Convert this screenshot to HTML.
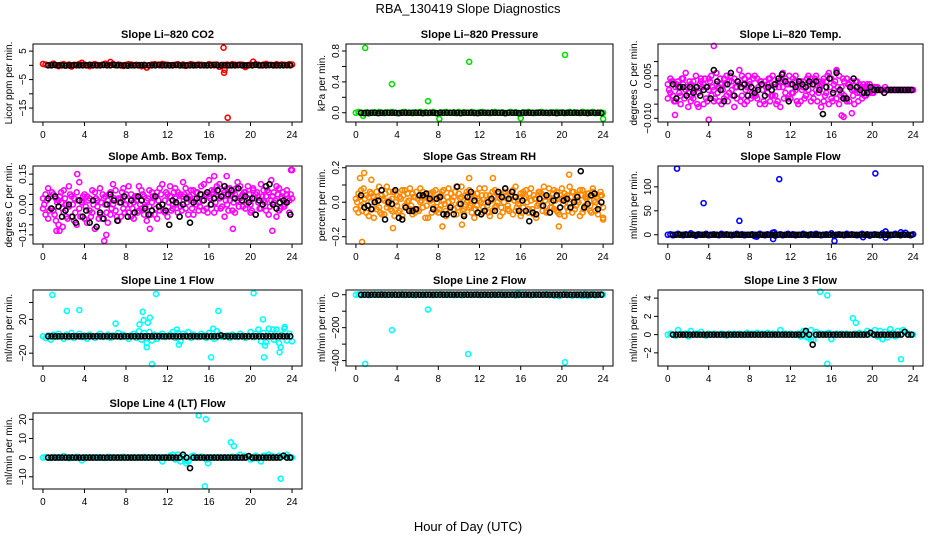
<!DOCTYPE html>
<html><head><meta charset="utf-8">
<style>
html,body{margin:0;padding:0;background:#fff;}
svg{display:block;font-family:"Liberation Sans",sans-serif;}
</style></head>
<body>
<svg id="chart" width="936" height="540" viewBox="0 0 936 540" xmlns="http://www.w3.org/2000/svg">
<rect x="0" y="0" width="936" height="540" fill="#fff"/>
<text x="468" y="13" text-anchor="middle" font-size="13">RBA_130419  Slope Diagnostics</text>
<text x="468" y="531" text-anchor="middle" font-size="13">Hour of Day (UTC)</text>
</svg>
<script>
const hoursC=[0,0.25,0.5,0.75,1,1.25,1.5,1.75,2,2.25,2.5,2.75,3,3.25,3.5,3.75,4,4.25,4.5,4.75,5,5.25,5.5,5.75,6,6.25,6.5,6.75,7,7.25,7.5,7.75,8,8.25,8.5,8.75,9,9.25,9.5,9.75,10,10.25,10.5,10.75,11,11.25,11.5,11.75,12,12.25,12.5,12.75,13,13.25,13.5,13.75,14,14.25,14.5,14.75,15,15.25,15.5,15.75,16,16.25,16.5,16.75,17,17.25,17.5,17.75,18,18.25,18.5,18.75,19,19.25,19.5,19.75,20,20.25,20.5,20.75,21,21.25,21.5,21.75,22,22.25,22.5,22.75,23,23.25,23.5,23.75,24];
const hoursC2=[0.12,0.37,0.62,0.87,1.12,1.37,1.62,1.87,2.12,2.37,2.62,2.87,3.12,3.37,3.62,3.87,4.12,4.37,4.62,4.87,5.12,5.37,5.62,5.87,6.12,6.37,6.62,6.87,7.12,7.37,7.62,7.87,8.12,8.37,8.62,8.87,9.12,9.37,9.62,9.87,10.12,10.37,10.62,10.87,11.12,11.37,11.62,11.87,12.12,12.37,12.62,12.87,13.12,13.37,13.62,13.87,14.12,14.37,14.62,14.87,15.12,15.37,15.62,15.87,16.12,16.37,16.62,16.87,17.12,17.37,17.62,17.87,18.12,18.37,18.62,18.87,19.12,19.37,19.62,19.87,20.12,20.37,20.62,20.87,21.12,21.37,21.62,21.87,22.12,22.37,22.62,22.87,23.12,23.37,23.62,23.87];
const hoursK=[0.5,0.83,1.17,1.5,1.83,2.17,2.5,2.83,3.17,3.5,3.83,4.17,4.5,4.83,5.17,5.5,5.83,6.17,6.5,6.83,7.17,7.5,7.83,8.17,8.5,8.83,9.17,9.5,9.83,10.17,10.5,10.83,11.17,11.5,11.83,12.17,12.5,12.83,13.17,13.5,13.83,14.17,14.5,14.83,15.17,15.5,15.83,16.17,16.5,16.83,17.17,17.5,17.83,18.17,18.5,18.83,19.17,19.5,19.83,20.17,20.5,20.83,21.17,21.5,21.83,22.17,22.5,22.83,23.17,23.5,23.83];
const xTicks=[0,4,8,12,16,20,24];

// CO2
const co2Main=[0.5,0.3,0,0.2,0.6,0,-0.3,0.2,0.4,0,0.3,-0.4,0.2,0,0.5,0.9,0.3,0,-0.3,0.2,0.4,0.1,0,0.3,0.6,0.2,1.2,0.5,0,0.3,0.1,-0.2,0.2,0.4,0.3,0,0.2,0.1,-0.3,0.2,-0.8,0,0.3,0.4,0.2,0,0.5,0.3,0.2,0,0.1,0.2,0.4,0,0.3,-0.2,0.1,0.4,0.2,0,0.3,0.2,0.1,0,0.4,0.2,0,0.3,-0.5,0.2,0.1,0.3,0,0.4,0.2,0.1,0.3,0.2,-0.6,0.1,0.3,1.3,0.4,0.2,0,0.3,0.5,0.1,0.2,0,0.4,0.1,0.3,0.2,0,0.4,0.3];
const co2Black=[0,0,0.2,0,0,-0.1,0,0,0.1,0,0,0,0.2,0,0,0,0.1,0,0,0.2,0,0,0,-0.1,0,0,0,0.1,0,0,0,0,0.2,0,0,0,0,0.1,0,0,0,0,0,0.1,0,0,0,0,0.2,0,0,0,0,0,0,0.1,0,0,0,0,0.2,0,0,0,0.1,0,0,0,0,0.1,0];
const co2OutH=[17.4,17.45,17.5,17.8];
const co2OutV=[6.2,-2.6,-1.6,-18.4];

// Pressure
const presMain=[0,0.01,-0.005,0,0.005,-0.01,0,0.005,0,0.01,0,-0.005,0.005,0,0.01,0,-0.005,0,0.005,0.01,0,0,-0.005,0.005,0,0.01,0,0.005,-0.005,0,0.01,0,-0.01,0.005,0,0.01,0,0,0.005,-0.005,0.01,0,0.005,0,0,0.01,-0.005,0,0.005,0.01,0,0,-0.005,0.005,0.01,0,0,0.005,-0.005,0,0.01,0,0.005,0,-0.01,0.005,0,0.01,0,-0.005,0,0.005,0.01,0,0,-0.005,0.005,0,0.01,0,0.005,-0.005,0,0.01,0,0.005,0,-0.005,0.01,0,0.005,0,0.01,-0.005,0,0.005,0];
const presBlack=[0,-0.005,0,0,0,-0.005,0,0,0,0,0,-0.005,0,0,0,0,0,0,-0.005,0,0,0,-0.005,0,0,0,0,0,0,-0.005,0,0,0,0,-0.005,0,0,0,0,0,0,0,-0.005,0,0,0,-0.005,0,0,0,0,0,0,0,0,0,0,-0.005,0,0,0,0,0,0,0,0,-0.005,0,0,0,-0.005];
const presOutH=[0.9,3.5,7,11,20.3,0.7,8.1,16,24];
const presOutV=[0.84,0.37,0.15,0.66,0.75,-0.04,-0.08,-0.07,-0.08];

// Li-820 Temp
const tempA=[0.002,-0.001,0.003,-0.004,0.001,-0.002,0.004,0.000,-0.006,0.002,-0.003,0.005,-0.001,0.003,-0.005,0.001,0.004,-0.002,0.000,0.006,-0.004,0.002,-0.003,0.005,-0.001,0.003,-0.006,0.001,0.007,-0.002,0.004,-0.004,0.002,-0.001,0.005,-0.003,0.003,0.000,-0.005,0.002,0.004,-0.002,0.001,-0.004,0.003,0.006,-0.001,0.002,-0.003,0.004,0.000,-0.005,0.003,0.001,-0.002,0.005,-0.004,0.002,0.000,0.003,-0.006,0.004,-0.001,0.006,-0.003,0.002,0.007,-0.005,0.001,-0.002,0.004,-0.004,0.003,0.000,-0.001,0.002,-0.003,0.001,0.002,-0.001,0.001,0.000,0.001,0.000,0.000,0.001,0.000,0.000,0.000,0.000,0.000,0.000,0.000,0.000,0.000,0.000,0.000];
const tempB=[-0.003,0.004,-0.002,0.001,0.003,-0.005,0.002,0.006,-0.001,-0.004,0.003,0.001,-0.006,0.004,0.002,-0.003,0.000,0.005,-0.004,0.002,0.001,-0.005,0.004,-0.002,0.003,0.000,0.004,-0.003,0.002,0.005,-0.005,0.001,0.003,-0.002,0.000,0.004,-0.005,0.002,0.003,-0.001,-0.004,0.005,-0.002,0.003,-0.006,0.001,0.004,-0.003,0.002,-0.001,0.005,0.001,-0.004,0.003,-0.002,0.000,0.004,-0.003,0.005,-0.001,0.002,-0.004,0.003,-0.005,0.004,0.000,-0.003,0.005,-0.001,0.003,-0.004,0.002,0.000,-0.005,0.003,-0.001,0.001,-0.002,0.000,0.002,-0.001,0.001,0.000,0.000,0.000,0.000,0.000,0.000,0.000,0.000,0.000,0.000,0.000,0.000,0.000,0.000];
const tempC=[0.000,0.003,-0.004,0.002,-0.001,0.004,-0.003,0.001,0.003,-0.002,0.000,-0.005,0.002,0.001,0.004,-0.004,0.003,0.001,-0.003,-0.001,0.004,0.000,0.002,-0.004,0.005,-0.002,0.001,0.003,-0.004,0.002,0.000,0.005,-0.003,0.004,-0.002,0.001,0.003,-0.004,0.001,0.004,-0.002,0.002,-0.005,0.001,0.004,-0.003,0.002,0.005,-0.001,0.003,-0.004,0.002,0.000,-0.003,0.004,0.002,-0.001,0.004,-0.004,0.001,0.003,-0.002,0.005,0.001,-0.004,0.003,0.001,-0.002,0.004,-0.003,0.002,0.001,-0.002,0.003,-0.004,0.001,0.002,-0.002,0.001,0.000,-0.001,0.001,0.000,0.000,0.000,0.000,0.000,0.000,0.000,0.000,0.000,0.000,0.000,0.000,0.000,0.000];
const tempBlack=[0.002,-0.003,0.001,0.001,-0.002,0.001,-0.001,0.001,-0.002,0.000,0.001,-0.003,0.007,0.003,0.000,-0.004,0.002,0.006,-0.002,0.003,0.001,0.002,-0.002,0.001,-0.001,0.000,0.002,-0.002,0.001,0.000,0.002,0.004,0.0055,0.003,-0.004,0.002,0.001,0.003,0.002,0.001,0.003,0.002,0.003,0.000,-0.0085,0.001,0.004,-0.001,0.006,0.000,-0.003,-0.003,0.001,0.004,0.001,0.000,-0.001,-0.001,0.001,0.000,0.000,0.000,-0.001,0.000,0.000,0.000,0.000,0.000,0.000,0.000,0.000];
const tempOutH=[4.5,4,0.7,17,16.5,17.2,18];
const tempOutV=[0.0155,-0.0105,-0.0088,-0.009,0.0065,-0.0095,-0.0082];

// Amb Box Temp
const ambA=[0.03,-0.05,0.08,-0.02,0.05,-0.08,0.02,0.06,-0.04,0.00,0.09,-0.06,0.03,-0.10,0.11,0.01,-0.07,0.04,-0.03,0.07,-0.12,0.02,-0.05,0.05,0.00,-0.09,0.06,0.10,-0.03,0.03,-0.06,0.08,0.00,-0.04,0.05,-0.07,0.02,0.09,-0.02,0.04,-0.08,0.07,0.01,-0.05,0.06,-0.03,0.10,0.02,-0.06,0.04,0.00,0.08,-0.04,0.05,0.11,-0.02,0.03,0.07,-0.05,0.06,0.01,0.09,-0.03,0.05,0.12,0.00,0.07,-0.02,0.10,0.04,-0.06,0.08,0.02,0.06,-0.04,0.11,0.03,0.05,-0.02,0.09,0.00,0.07,-0.05,0.04,0.10,0.02,-0.03,0.06,0.12,0.01,-0.06,0.08,0.03,-0.01,0.05,0.02,0.17];
const ambB=[-0.02,0.05,-0.07,0.04,-0.03,0.03,-0.10,0.01,0.07,-0.06,-0.01,0.04,-0.08,0.06,-0.02,0.02,0.05,-0.09,0.03,-0.04,0.06,-0.01,0.08,-0.07,0.04,0.02,-0.05,0.00,0.07,-0.08,0.03,-0.02,0.05,0.09,-0.06,0.01,0.04,-0.03,0.07,-0.05,0.02,-0.01,0.06,0.03,-0.07,0.08,0.00,-0.04,0.05,0.09,-0.02,0.03,0.06,-0.01,0.04,0.08,-0.05,0.02,0.07,0.00,-0.03,0.05,0.10,-0.02,0.04,0.07,-0.04,0.09,0.03,-0.01,0.06,0.00,0.08,-0.03,0.05,0.02,0.09,-0.01,0.06,0.03,-0.04,0.08,0.05,0.01,-0.02,0.07,0.04,-0.05,0.02,0.06,0.09,-0.03,0.04,0.00,0.07,-0.04,0.03];
const ambC=[0.00,0.02,-0.03,0.06,-0.05,0.01,0.04,-0.02,0.03,-0.07,0.05,0.00,-0.04,0.02,-0.06,0.04,-0.01,0.02,-0.06,0.00,0.03,-0.07,0.01,0.03,-0.04,0.05,-0.02,0.03,-0.06,0.01,0.06,-0.04,0.02,0.00,-0.02,0.04,-0.04,0.00,0.05,-0.01,0.03,-0.05,0.04,-0.02,0.02,0.05,-0.03,0.06,0.01,-0.03,0.06,0.00,0.02,-0.03,0.05,0.01,0.04,-0.02,0.03,0.06,-0.01,0.02,0.05,-0.04,0.03,0.06,0.01,0.04,-0.02,0.07,0.02,-0.03,0.05,0.01,0.08,-0.01,0.04,0.06,0.00,0.05,-0.03,0.03,0.06,-0.02,0.04,0.01,0.07,-0.01,0.04,0.02,0.05,-0.02,0.06,0.01,0.03,0.05,0.00];
const ambBlack=[0.03,-0.02,0.04,-0.01,-0.06,-0.03,0.00,-0.06,-0.09,0.02,-0.06,-0.03,-0.09,0.02,-0.11,-0.04,-0.07,0.00,0.05,0.02,-0.08,0.01,0.04,-0.06,0.02,-0.04,0.04,0.02,-0.02,-0.05,-0.03,0.04,-0.01,0.00,-0.03,-0.10,0.02,0.01,-0.06,0.00,0.03,-0.09,0.01,0.03,0.05,0.02,0.06,0.00,0.03,0.07,0.04,0.09,0.05,0.07,0.03,0.08,0.02,0.04,0.01,0.03,-0.05,0.02,0.00,0.09,0.10,0.00,-0.02,0.01,0.02,0.01,-0.05];
const ambOutH=[3.3,1.3,1.6,1.9,5.9,6.1,10.3,16.5,17.7,18.3,22.1,23.9];
const ambOutV=[0.15,-0.13,-0.13,-0.11,-0.18,-0.15,-0.12,0.14,0.14,-0.12,-0.13,0.17];

// Gas Stream RH
const rhA=[-0.04,0.05,-0.02,0.08,-0.06,0.03,0.00,-0.09,0.06,-0.03,0.04,-0.07,0.09,0.01,-0.05,0.06,-0.02,0.03,-0.08,0.07,0.00,-0.04,0.05,-0.06,0.02,0.08,-0.03,0.04,-0.09,0.01,0.06,-0.05,0.03,-0.02,0.07,-0.08,0.00,0.05,-0.04,0.09,-0.01,0.03,-0.07,0.06,-0.03,0.02,-0.09,0.05,0.01,-0.06,0.08,-0.02,0.04,-0.05,0.07,0.00,-0.08,0.03,0.06,-0.04,0.02,-0.07,0.09,-0.01,0.05,-0.03,0.07,-0.06,0.01,0.04,-0.09,0.06,-0.02,0.03,-0.05,0.08,0.00,-0.04,0.06,-0.07,0.02,0.05,-0.03,0.09,-0.06,0.01,0.04,-0.08,0.07,-0.02,0.03,-0.05,0.06,0.00,-0.07,0.04,-0.03];
const rhB=[0.02,-0.06,0.07,-0.01,0.04,-0.08,0.05,0.03,-0.04,0.09,-0.07,0.01,-0.03,0.06,0.02,-0.08,0.04,-0.05,0.07,-0.02,0.05,0.08,-0.07,0.03,-0.04,0.00,0.06,-0.09,0.02,0.05,-0.03,0.07,-0.06,0.04,0.01,-0.05,0.08,-0.02,0.03,-0.07,0.05,0.09,-0.04,0.00,0.07,-0.06,0.03,-0.02,0.08,0.04,-0.05,0.01,-0.08,0.06,-0.03,0.05,0.02,-0.06,0.08,-0.02,0.04,0.07,-0.05,0.01,-0.08,0.06,0.03,-0.04,0.08,-0.07,0.02,-0.01,0.05,0.09,-0.06,0.03,-0.03,0.07,-0.05,0.02,0.08,-0.08,0.04,-0.01,0.06,-0.04,0.01,0.07,-0.06,0.03,0.05,-0.02,0.08,-0.05,0.02,0.06,-0.09];
const rhC=[0.00,0.03,-0.05,0.02,-0.02,0.06,-0.04,0.01,0.03,-0.06,0.02,0.05,-0.01,-0.04,0.06,0.00,-0.06,0.02,0.04,-0.03,0.01,-0.02,0.03,0.06,-0.05,0.01,0.03,-0.02,0.05,-0.06,0.02,0.00,-0.04,0.06,-0.01,0.03,-0.05,0.01,0.06,-0.03,0.02,-0.05,0.04,0.01,-0.02,0.05,-0.04,0.02,0.00,-0.03,0.04,-0.06,0.01,0.03,-0.02,0.05,-0.03,0.00,0.04,-0.05,0.06,0.01,-0.03,0.03,-0.06,0.02,0.00,0.05,-0.04,0.02,-0.02,0.06,-0.05,0.01,0.03,-0.03,0.05,0.01,-0.06,0.04,-0.01,0.02,-0.05,0.03,0.06,-0.02,0.00,0.04,-0.04,0.02,0.05,-0.06,0.01,0.03,-0.02,0.04,0.00];
const rhBlack=[0.04,-0.03,-0.02,-0.04,0.00,0.01,0.07,-0.10,0.00,-0.01,0.07,-0.09,-0.10,-0.03,-0.05,-0.05,-0.04,0.04,0.04,0.05,0.02,-0.04,0.02,0.03,-0.07,-0.07,-0.03,-0.07,0.09,-0.01,-0.08,0.03,0.06,0.01,-0.06,-0.07,-0.05,0.00,0.02,-0.05,0.06,0.03,0.08,0.02,0.06,0.03,-0.05,0.01,-0.05,-0.11,-0.06,-0.07,0.02,-0.02,0.04,-0.06,0.01,0.04,-0.03,0.01,0.02,-0.03,0.00,0.03,0.18,-0.03,-0.01,0.04,0.05,-0.04,0.00];
const rhOutH=[0.6,0.8,0.4,1.5,3.6,8.4,10.3,19.7,20.7,11,13.3,24];
const rhOutV=[-0.23,0.17,0.14,0.13,-0.15,-0.14,-0.13,-0.14,0.16,0.14,0.14,-0.1];

// Sample Flow
const sampMain=[0,1,-1,0,2,0,-1,1,0,3,0,-2,1,0,0,2,-1,0,1,0,-1,2,0,1,0,-1,0,2,0,1,-1,0,0,1,-3,0,2,0,-1,1,0,4,-2,0,1,-1,0,2,0,1,-1,0,0,2,0,-1,1,0,2,0,-1,0,1,0,3,-2,0,1,0,-1,2,0,1,0,-1,0,2,0,1,-2,0,1,0,-1,3,0,1,-1,0,2,0,-1,1,4,0,-1,1];
const sampBlack=[0,0,0,0,0,0,0,0,0,0,0,0,0,0,0,0,0,0,0,0,0,0,0,0,0,0,0,0,0,0,0,0,0,0,0,0,0,0,0,0,0,0,0,0,0,0,0,0,0,0,0,0,0,0,0,0,0,0,0,0,0,0,0,0,0,0,0,0,0,0,0];
const sampOutH=[0.9,3.5,7,10.9,20.3,10.3,16.3,19.1,21.3,21.3,8.7,10.4,22.8];
const sampOutV=[138,66,29,116,128,-9,-13,-5,-6,7,-4,5,5];

// Line 1 Flow
const l1Main=[0,-2,1,-4,2,-1,3,0,-3,2,-1,4,-2,0,3,-1,1,-3,2,0,-2,1,3,-1,0,2,-2,1,0,4,-1,2,0,-3,1,3,-2,6,-4,4,-8,5,-5,2,-3,1,3,-1,0,2,5,-2,4,-6,3,1,5,-2,2,0,-1,3,1,-2,4,0,-3,6,2,-1,0,1,-2,2,0,-1,3,1,-2,0,5,-1,3,8,-6,4,-7,9,3,-4,8,-8,2,9,-5,3,-6];
const l1Black=[0,0,0,0,0,0,0,0,0,0,0,0,0,0,0,0,0,0,0,0,0,0,0,0,0,0,0,0,0,0,0,0,0,0,0,0,0,0,0,0,0,0,0,0,0,0,0,0,0,0,1,0,0,0,0,0,0,0,0,0,0,0,0,0,0,0,0,0,0,0,0];
const l1OutH=[0.9,2.3,3.5,7,9.3,9.6,9.7,10.1,10.3,10.5,10.9,13.1,16.2,16.9,20.3,21.2,21.3,21.4,22.8,22.9,23.3,10,12.9,16.4,22.2];
const l1OutV=[49,30,31,15,14,29,19,16,22,-33,50,-10,-25,30,51,20,-25,-11,-19,-13,11,-13,8,9,8];

// Line 2 Flow
const l2Main=[0,2,-2,0,1,-3,0,2,0,-1,3,0,-2,1,0,2,-1,0,3,-2,0,1,0,-3,2,0,-1,0,2,0,-2,1,0,3,0,-1,2,0,-2,0,1,-3,0,2,0,-1,0,3,-2,0,1,0,-2,2,0,-1,3,0,-2,1,0,2,-4,8,0,-1,2,0,-3,1,0,2,-1,0,3,-2,0,-6,2,-8,0,4,-3,1,-6,0,-4,2,-7,5,-8,0,3,-4,0,2,0];
const l2Black=[0,0,0,0,0,0,0,0,0,0,0,0,0,0,0,0,0,0,0,0,0,0,0,0,0,0,0,0,0,0,0,0,0,0,0,0,0,0,0,0,0,0,0,0,0,0,0,0,0,0,0,0,0,0,0,0,0,0,0,0,0,0,0,0,0,0,0,0,0,0,0];
const l2OutH=[0.9,3.5,7,10.9,20.3];
const l2OutV=[-420,-215,-90,-360,-410];

// Line 3 Flow
const l3Main=[0,0.1,0,-0.1,0.5,0.1,0,0.1,-0.2,0.4,0,0.1,0,0.3,0,-0.1,0.1,0,0.1,0,0,0.1,0,-0.1,0.1,0,0.1,0,0.1,0,0,0.2,0,0.1,0,0.2,0,0.1,0,0.2,0,0.1,0,0.1,0.5,0,0.1,0,0.1,0,0,0.1,-0.2,0.4,0.2,-0.3,0.5,-0.6,0.3,0,0.1,0,0.1,0.2,-0.5,0,0.1,0,0.1,0,0.1,0,0,0.1,0,0.2,0,0.1,0.4,0,0.1,0.5,-0.2,0.4,-0.5,0.3,-0.3,0.6,0.2,-0.2,0.4,0.1,0.5,0.3,0.1,0,0];
const l3Black=[0,0,0,0,0,0,0,0,0,0,0,0,0,0,0,0,0,0,0,0,0,0,0,0,0,0,0,0,0,0,0,0,0,0,0,0,0,0,0,0.4,0,-1.1,0,0,0,0,0,0,0,0,0,0,0,0,0,0,0,0,0.2,0,0,0,0,0,0,0,0,0,0.3,0,0];
const l3OutH=[14.9,15.6,15.6,18.1,18.4,16,21,22.8,13.6,14];
const l3OutV=[4.7,4.3,-3.2,1.8,1.3,-0.5,-0.5,-2.7,-0.3,-0.6];

// Line 4 Flow
const l4Main=[0,0.3,0,-0.2,0.3,0,0.2,0,0.8,0,-0.3,0.2,0,0.4,0,-1.5,0.2,0,0.3,0,0.2,0,0.3,0,-0.2,0.4,0,0.3,0,0.2,0,0.4,0,0.2,0,0.3,0,0.2,0,0.4,0,0.2,0,0.3,0,0.2,-2,0.3,0,1,1.5,-1,1.5,-2,0.5,-1.5,-2,0.5,1,0,0.3,0.5,0.2,-1,0.3,0,0.2,0,0.3,0,0.2,0,0.3,0.5,0,0.4,1.5,0,0.8,0.5,-1,-0.5,1,-0.5,-2,1,0.5,1.5,0.8,0.5,0.3,1,0.5,0.8,1.5,0.3,0];
const l4Black=[0,0,0,0,0,0,0,0,0,0,0,0,0,0,0,0,0,0,0,0,0,0,0,0,0,0,0,0,0,0,0,0,0,0,0,0,0,0,0,1.5,0,-5.5,0,0,0,0,0,0,0,0,0,0,0,0,0,0,0,0,0.8,0,0,0,0,0,0,0,0,0,1,0,0];
const l4OutH=[15,15.7,15.6,18.1,18.4,22.9,13.8,15.9];
const l4OutV=[22,20,-15,8,6,-11,-3,-3];

const svg=document.getElementById('chart');
const NS='http://www.w3.org/2000/svg';
function el(tag,attrs,parent){const e=document.createElementNS(NS,tag);for(const k in attrs)e.setAttribute(k,attrs[k]);(parent||svg).appendChild(e);return e;}

const colLeft=[33,346,658],colRight=[302,613,923];
const rowTop=[44,166,290,413],rowBot=[122,244,366,489];

const panels=[
 {name:'co2',title:'Slope Li\u2013820 CO2',ylab:'Licor ppm per min.',r:0,c:0,ymin:-19.9,ymax:7.5,ticks:[-15,-10,-5,0,5],labels:[[5,'5'],[-5,'\u22125'],[-15,'\u221215']],color:'#ff0000',main:[co2Main],black:co2Black,oh:co2OutH,ov:co2OutV},
 {name:'pressure',title:'Slope Li\u2013820 Pressure',ylab:'kPa per min.',r:0,c:1,ymin:-0.12,ymax:0.891,ticks:[0,0.2,0.4,0.6,0.8],labels:[[0,'0.0'],[0.4,'0.4'],[0.8,'0.8']],color:'#00e000',main:[presMain],black:presBlack,oh:presOutH,ov:presOutV},
 {name:'li820-temp',title:'Slope Li\u2013820 Temp.',ylab:'degrees C per min.',r:0,c:2,ymin:-0.0113,ymax:0.0162,ticks:[-0.01,-0.005,0,0.005,0.01],labels:[[0.005,'0.005'],[-0.01,'\u22120.010']],color:'#ff00ff',main:[tempA,tempB],main2:tempC,black:tempBlack,oh:tempOutH,ov:tempOutV},
 {name:'amb-box-temp',title:'Slope Amb. Box Temp.',ylab:'degrees C per min.',r:1,c:0,ymin:-0.195,ymax:0.19,ticks:[-0.15,-0.1,-0.05,0,0.05,0.1,0.15],labels:[[0.15,'0.15'],[0,'0.00'],[-0.15,'\u22120.15']],color:'#ff00ff',main:[ambA,ambB],main2:ambC,black:ambBlack,oh:ambOutH,ov:ambOutV},
 {name:'gas-stream-rh',title:'Slope Gas Stream RH',ylab:'percent per min.',r:1,c:1,ymin:-0.242,ymax:0.21,ticks:[-0.2,-0.1,0,0.1,0.2],labels:[[0.2,'0.2'],[0,'0.0'],[-0.2,'\u22120.2']],color:'#ff8800',main:[rhA,rhB],main2:rhC,black:rhBlack,oh:rhOutH,ov:rhOutV},
 {name:'sample-flow',title:'Slope Sample Flow',ylab:'ml/min per min.',r:1,c:2,ymin:-19.3,ymax:143.5,ticks:[0,50,100],labels:[[0,'0'],[50,'50'],[100,'100']],color:'#0000ff',main:[sampMain],black:sampBlack,oh:sampOutH,ov:sampOutV},
 {name:'line1-flow',title:'Slope Line 1 Flow',ylab:'ml/min per min.',r:2,c:0,ymin:-35.2,ymax:54.8,ticks:[-20,0,20,40],labels:[[20,'20'],[-20,'\u221220']],color:'#00ffff',main:[l1Main],black:l1Black,oh:l1OutH,ov:l1OutV},
 {name:'line2-flow',title:'Slope Line 2 Flow',ylab:'ml/min per min.',r:2,c:1,ymin:-432.8,ymax:28.6,ticks:[-400,-300,-200,-100,0],labels:[[0,'0'],[-200,'\u2212200'],[-400,'\u2212400']],color:'#00ffff',main:[l2Main],black:l2Black,oh:l2OutH,ov:l2OutV},
 {name:'line3-flow',title:'Slope Line 3 Flow',ylab:'ml/min per min.',r:2,c:2,ymin:-3.44,ymax:4.89,ticks:[-2,0,2,4],labels:[[4,'4'],[2,'2'],[0,'0'],[-2,'\u22122']],color:'#00ffff',main:[l3Main],black:l3Black,oh:l3OutH,ov:l3OutV},
 {name:'line4-flow',title:'Slope Line 4 (LT) Flow',ylab:'ml/min per min.',r:3,c:0,ymin:-16.4,ymax:23.3,ticks:[-10,0,10,20],labels:[[20,'20'],[10,'10'],[0,'0'],[-10,'\u221210']],color:'#00ffff',main:[l4Main],black:l4Black,oh:l4OutH,ov:l4OutV}
];

panels.forEach(p=>{
  const L=colLeft[p.c],R=colRight[p.c],T=rowTop[p.r],B=rowBot[p.r];
  const xs=h=>L+(h+0.96)/25.92*(R-L);
  const ys=v=>B-(v-p.ymin)/(p.ymax-p.ymin)*(B-T);
  const g=el('g',{});
  
  
  const t=el('text',{x:(L+R)/2,y:T-6,'text-anchor':'middle','font-size':'11','font-weight':'bold'},g);
  t.textContent=p.title;
  
  
  const yl=el('text',{transform:'translate('+(L-21)+','+((T+B)/2)+') rotate(-90)','text-anchor':'middle','font-size':'10'},g);
  yl.textContent=p.ylab;
  
  
  const pts=el('g',{fill:'none','stroke-width':'1.6'},g);
  
  
  p.main.forEach(arr=>{
    const n=Math.min(arr.length,hoursC.length);
    for(let i=0;i<n;i++){
      const c=el('circle',{cx:xs(hoursC[i]),cy:ys(arr[i]),r:2.5,stroke:p.color},pts);
      
      
    }
  });
  if(p.main2){
    const n=Math.min(p.main2.length,hoursC2.length);
    for(let i=0;i<n;i++){
      const c=el('circle',{cx:xs(hoursC2[i]),cy:ys(p.main2[i]),r:2.5,stroke:p.color},pts);
      
      
    }
  }
  for(let i=0;i<p.oh.length;i++){
    const c=el('circle',{cx:xs(p.oh[i]),cy:ys(p.ov[i]),r:2.5,stroke:p.color},pts);
    
    
  }
  const nb=Math.min(p.black.length,hoursK.length);
  for(let i=0;i<nb;i++){
    const c=el('circle',{cx:xs(hoursK[i]),cy:ys(p.black[i]),r:2.5,stroke:'#000'},pts);
    
    
  }
  const box=el('rect',{x:L,y:T,width:R-L,height:B-T,fill:'none',stroke:'#000','stroke-width':'1'},g);
  
  
  xTicks.forEach(h=>{
    const x=xs(h);
    el('line',{x1:x,y1:B,x2:x,y2:B+4,stroke:'#000'},g);
    const tl=el('text',{x:x,y:B+16,'text-anchor':'middle','font-size':'10'},g);
    tl.textContent=h;
    
    
  });
  p.ticks.forEach(v=>{
    const y=ys(v);
    el('line',{x1:L-4,y1:y,x2:L,y2:y,stroke:'#000'},g);
  });
  p.labels.forEach(lv=>{
    const y=ys(lv[0]);
    const tl=el('text',{transform:'translate('+(L-7)+','+y+') rotate(-90)','text-anchor':'middle','font-size':'10'},g);
    tl.textContent=lv[1];
    
    
  });
});
</script>
</body></html>
